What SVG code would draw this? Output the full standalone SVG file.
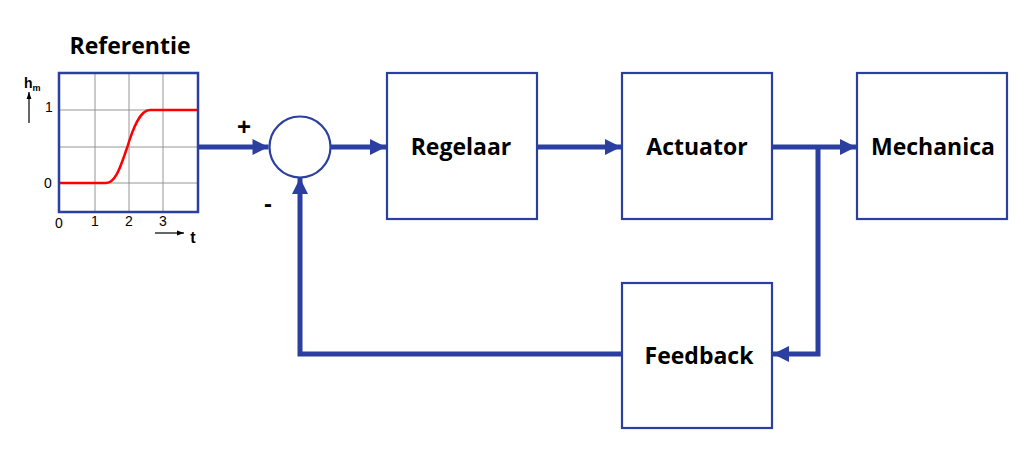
<svg xmlns="http://www.w3.org/2000/svg" width="1024" height="459" viewBox="0 0 1024 459">
<style>
.box{fill:#fff;stroke:#2B3FA0;stroke-width:2.2}
.lbl{font-family:"Open Sans","Liberation Sans",sans-serif;font-weight:bold;font-size:23px;fill:#000;text-anchor:middle;dominant-baseline:central}
.conn{fill:none;stroke:#2B3FA0;stroke-width:5}
.grid{stroke:#8a8a8a;stroke-width:0.9}
.ax{font-family:"Liberation Sans",Arial,sans-serif;font-size:14px;fill:#000;text-anchor:middle;dominant-baseline:central}
</style>
<defs>
<marker id="ah" viewBox="0 0 10 10" refX="10" refY="5" markerWidth="3.6" markerHeight="3.2" orient="auto" markerUnits="strokeWidth">
<path d="M0,0 L10,5 L0,10 z" fill="#2B3FA0"/>
</marker>
<marker id="sa" viewBox="0 0 10 10" refX="10" refY="5" markerWidth="6" markerHeight="6" orient="auto" markerUnits="strokeWidth">
<path d="M0,1.5 L10,5 L0,8.5 z" fill="#000"/>
</marker>
</defs>
<rect width="1024" height="459" fill="#fff"/>
<g id="referentie">
<text x="130" y="45" class="lbl">Referentie</text>
<rect x="59" y="73" width="139" height="139" fill="#fff"/>
<line class="grid" x1="95" y1="73" x2="95" y2="212"/>
<line class="grid" x1="129" y1="73" x2="129" y2="212"/>
<line class="grid" x1="163" y1="73" x2="163" y2="212"/>
<line class="grid" x1="59" y1="110" x2="198" y2="110"/>
<line class="grid" x1="59" y1="147" x2="198" y2="147"/>
<line class="grid" x1="59" y1="183" x2="198" y2="183"/>
<path d="M59,183 L106,183 C116,183 121,165 127,148 C133,128 140,110 150,110 L198,110" fill="none" stroke="#f00" stroke-width="2.5"/>
<rect x="59" y="73" width="139" height="139" fill="none" stroke="#2B3FA0" stroke-width="2.5"/>
<text class="ax" x="59" y="223">0</text>
<text class="ax" x="95" y="221">1</text>
<text class="ax" x="129" y="221">2</text>
<text class="ax" x="163" y="221">3</text>
<text class="ax" x="49" y="107">1</text>
<text class="ax" x="48" y="183">0</text>
<text x="24" y="88" font-family="Liberation Sans,Arial,sans-serif" font-weight="bold" font-size="14">h<tspan font-size="9" dy="3">m</tspan></text>
<line x1="29" y1="123" x2="29" y2="92" stroke="#000" stroke-width="1.2" marker-end="url(#sa)"/>
<line x1="155" y1="233" x2="184" y2="233" stroke="#000" stroke-width="1.2" marker-end="url(#sa)"/>
<text x="193" y="237" font-family="Liberation Sans,Arial,sans-serif" font-weight="bold" font-size="16" text-anchor="middle" dominant-baseline="central">t</text>
</g>
<g id="sum">
<circle cx="300" cy="147" r="30.5" fill="#fff" stroke="#2B3FA0" stroke-width="2.2"/>
<text x="244" y="126" font-family="Liberation Sans,Arial,sans-serif" font-weight="bold" font-size="24" text-anchor="middle" dominant-baseline="central">+</text>
<text x="268" y="203" font-family="Liberation Sans,Arial,sans-serif" font-weight="bold" font-size="24" text-anchor="middle" dominant-baseline="central">-</text>
</g>
<g id="regelaar"><rect class="box" x="387" y="73" width="150" height="146"/><text class="lbl" x="461" y="146">Regelaar</text></g>
<g id="actuator"><rect class="box" x="622" y="73" width="150" height="146"/><text class="lbl" x="697" y="146">Actuator</text></g>
<g id="mechanica"><rect class="box" x="857" y="73" width="150" height="146"/><text class="lbl" x="933" y="146">Mechanica</text></g>
<g id="feedback"><rect class="box" x="622" y="283" width="150" height="145"/><text class="lbl" x="699" y="355">Feedback</text></g>
<g id="connectors">
<path class="conn" d="M199,147 L268.5,147" marker-end="url(#ah)"/>
<path class="conn" d="M331,147 L386,147" marker-end="url(#ah)"/>
<path class="conn" d="M538,147 L621,147" marker-end="url(#ah)"/>
<path class="conn" d="M773,147 L856,147" marker-end="url(#ah)"/>
<path class="conn" d="M818,147 L818,354 L773,354" marker-end="url(#ah)"/>
<path class="conn" d="M621,354 L300,354 L300,178" marker-end="url(#ah)"/>
</g>
</svg>
